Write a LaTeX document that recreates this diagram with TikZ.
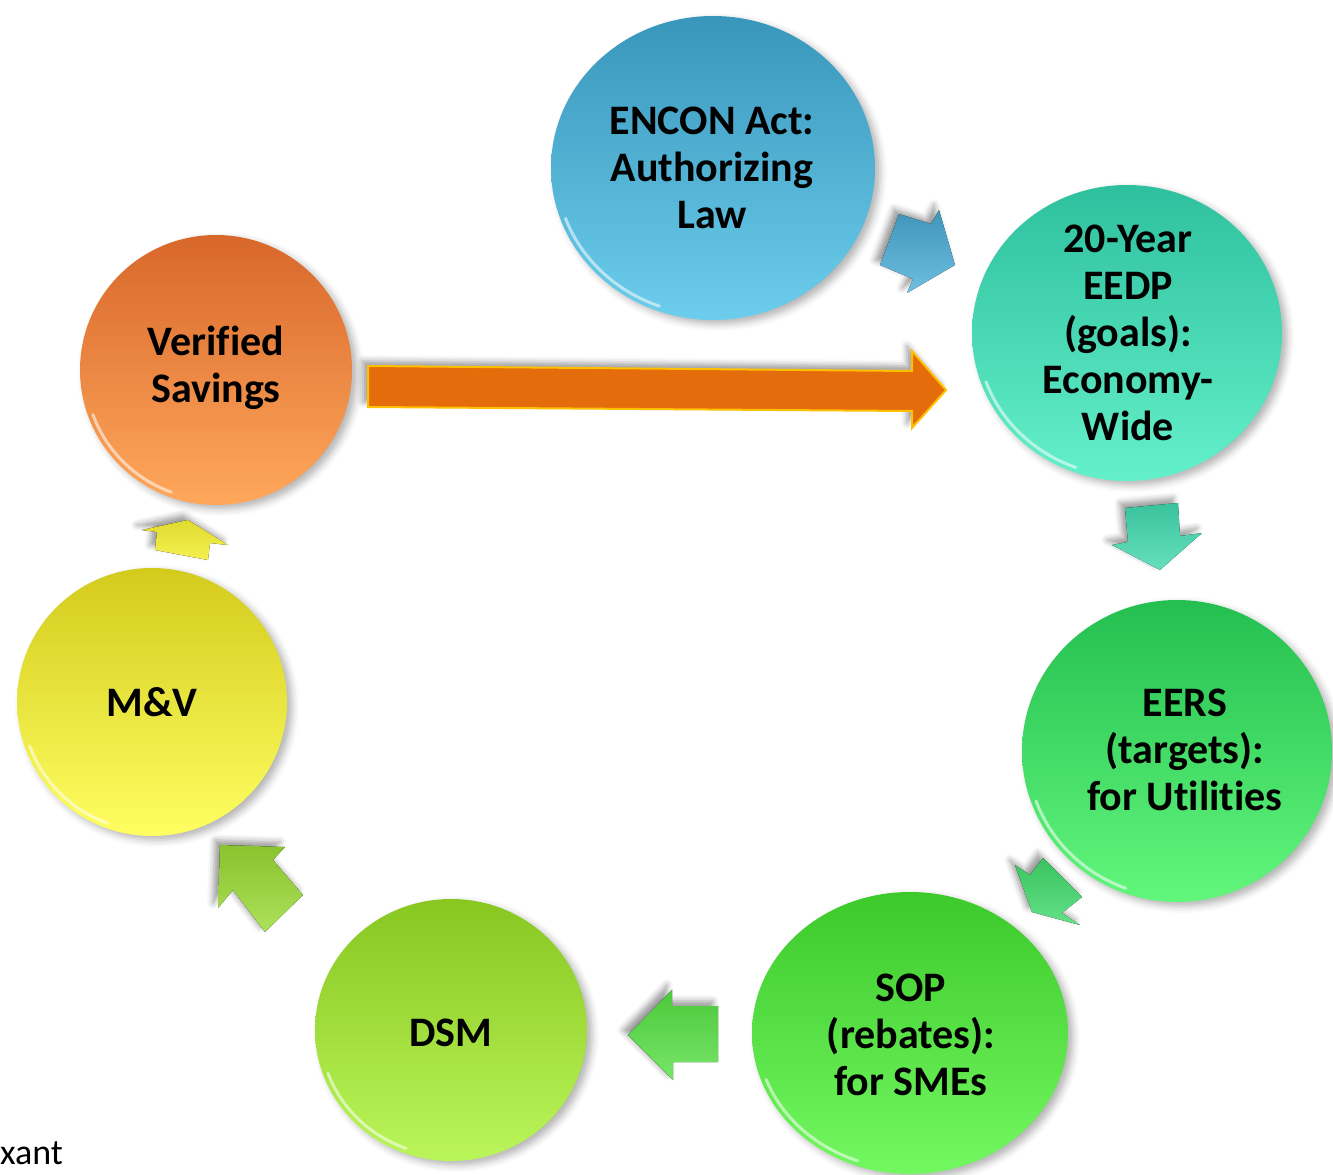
\documentclass[tikz,border=0pt]{standalone}
\usepackage{fontspec}
\setmainfont{Carlito}[Ligatures={NoCommon}]
\usetikzlibrary{shapes.geometric,shadows.blur}
\definecolor{encTop}{HTML}{3896BB}
\definecolor{encBot}{HTML}{6CCDEC}
\definecolor{eedTop}{HTML}{2EC09E}
\definecolor{eedBot}{HTML}{64F0CA}
\definecolor{eerTop}{HTML}{24BF50}
\definecolor{eerBot}{HTML}{62F67C}
\definecolor{sopTop}{HTML}{3CC92A}
\definecolor{sopBot}{HTML}{74F862}
\definecolor{dsmTop}{HTML}{88C620}
\definecolor{dsmBot}{HTML}{BAF65A}
\definecolor{mvTop}{HTML}{D3CB1C}
\definecolor{mvBot}{HTML}{FFFF62}
\definecolor{vsTop}{HTML}{D8672A}
\definecolor{vsBot}{HTML}{FFA85C}
\definecolor{arBlue}{HTML}{4AAFD9}
\definecolor{arTeal}{HTML}{40D8AE}
\definecolor{arGreen}{HTML}{3FD96A}
\definecolor{arSop}{HTML}{55DF42}
\definecolor{arDsm}{HTML}{98D932}
\definecolor{arYel}{HTML}{F3EE32}
\definecolor{arOra}{HTML}{E46C0A}
\definecolor{arOraEdge}{HTML}{FFC000}
\newcommand\rimhl[3]{\draw[rim] ([shift={(200:#2 and #3)}]#1.center) arc[start angle=200,end angle=250,x radius=#2,y radius=#3];}
\begin{document}
\begin{tikzpicture}[x=1pt,y=-1pt,
  bubble/.style={ellipse, inner sep=0pt, shading angle=0,
    blur shadow={shadow xshift=5pt, shadow yshift=-4pt, shadow blur radius=7pt, shadow opacity=30}},
  lbl/.style={align=center, font=\fontsize{42}{47}\selectfont\bfseries, text=black, inner sep=0pt},
  barrow/.style={blur shadow={shadow xshift=-5pt, shadow yshift=5pt, shadow blur radius=6pt, shadow opacity=40}},
  rim/.style={white, opacity=0.55, line width=3pt, line cap=round}]
\useasboundingbox (0,0) rectangle (1333,1175);

% bubbles
\node[bubble, minimum width=324pt, minimum height=304pt, top color=encTop, bottom color=encBot] (encon) at (713,168) {};
\node[bubble, minimum width=310pt, minimum height=296pt, top color=eedTop, bottom color=eedBot] (eedp) at (1127,333) {};
\node[bubble, minimum width=310pt, minimum height=302pt, top color=eerTop, bottom color=eerBot] (eers) at (1177,751) {};
\node[bubble, minimum width=316pt, minimum height=282pt, top color=sopTop, bottom color=sopBot] (sop) at (910,1033) {};
\node[bubble, minimum width=272pt, minimum height=262pt, top color=dsmTop, bottom color=dsmBot] (dsm) at (451,1030) {};
\node[bubble, minimum width=270pt, minimum height=268pt, top color=mvTop, bottom color=mvBot] (mv) at (152,702) {};
\node[bubble, minimum width=272pt, minimum height=270pt, top color=vsTop, bottom color=vsBot] (vs) at (216,370) {};

\rimhl{encon}{157pt}{147pt}
\rimhl{eedp}{150pt}{143pt}
\rimhl{eers}{150pt}{146pt}
\rimhl{sop}{153pt}{136pt}
\rimhl{dsm}{131pt}{126pt}
\rimhl{mv}{130pt}{129pt}
\rimhl{vs}{131pt}{130pt}

% labels
\node[lbl] (tencon) at (712,168) {ENCON Act:\\Authorizing\\Law};
\node[lbl] (teedp) at (1128,333) {20-Year\\EEDP\\(goals):\\Economy-\\Wide};
\node[lbl] (teers) at (1185,750) {EERS\\(targets):\\for Utilities};
\node[lbl] (tsop) at (911,1035) {SOP\\(rebates):\\for SMEs};
\node[lbl] (tdsm) at (451,1033) {DSM};
\node[lbl] (tmv) at (152,702) {M\&V};
\node[lbl] (tvs) at (216,368) {Verified\\Savings};

% block arrows
\fill[barrow, top color=arBlue!85!black, bottom color=arBlue!80!white]
  (899,214) -- (931,224) -- (939,210) -- (955,265) -- (907,293) -- (913,279) -- (880,265) -- cycle;
\fill[barrow, top color=arTeal!90!black, bottom color=arTeal!80!white]
  (1125,508) -- (1178,503) -- (1180,536) -- (1202,533) -- (1160,570) -- (1112,545) -- (1128,542) -- cycle;
\fill[barrow, top color=arGreen!90!black, bottom color=arGreen!80!white]
  (1043,858) -- (1082,897) -- (1062,913) -- (1080,925) -- (1032,912) -- (1015,865) -- (1030,875) -- cycle;
\fill[barrow, top color=arSop!90!black, bottom color=arSop!80!white]
  (718,1006) -- (718,1062) -- (673,1062) -- (673,1080) -- (628,1035) -- (672,990) -- (672,1006) -- cycle;
\fill[barrow, top color=arDsm!90!black, bottom color=arDsm!80!white]
  (220,845) -- (285,847) -- (273,860) -- (303,895) -- (265,932) -- (233,890) -- (218,908) -- cycle;
\fill[barrow, top color=arYel!92!black, bottom color=arYel!85!white]
  (188,520) -- (228,545) -- (210,543) -- (208,560) -- (155,550) -- (157,532) -- (142,530) -- cycle;
\filldraw[barrow, fill=arOra, draw=arOraEdge, line width=2pt, line join=miter]
  (368,366) -- (912,371) -- (912,351) -- (946,390) -- (912,428) -- (912,411) -- (368,407) -- cycle;

\node[anchor=base west, font=\fontsize{36}{43}\selectfont, inner sep=0pt] (xant) at (0,1164) {xant};
\end{tikzpicture}
\end{document}
